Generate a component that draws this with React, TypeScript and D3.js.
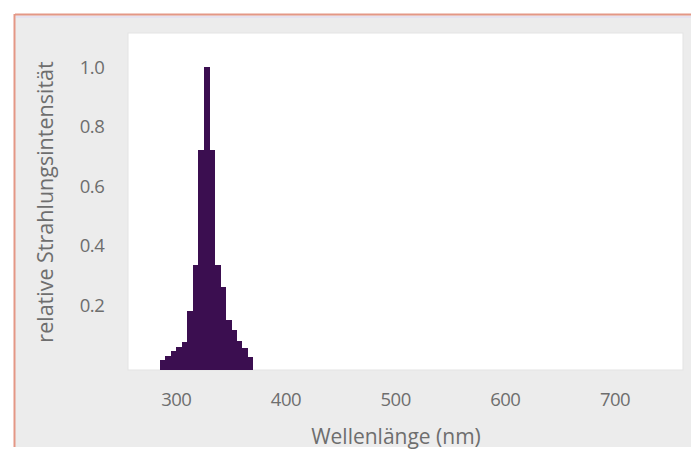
import React from "react";
import * as d3 from "d3";

// Histogram bins (start wavelength in nm, bin width 5 nm)
const binStarts = [285, 290, 295, 300, 305, 310, 315, 320, 325, 330, 335, 340, 345, 350, 355, 360, 365];
const binValues = [0.015, 0.03, 0.045, 0.06, 0.075, 0.18, 0.335, 0.72, 1.0, 0.72, 0.335, 0.26, 0.15, 0.115, 0.08, 0.055, 0.025];
const binWidth = 5;
const xTicks = [300, 400, 500, 600, 700];
const yTicks = [0.2, 0.4, 0.6, 0.8, 1.0];
const xTitle = "Wellenlänge (nm)";
const yTitle = "relative Strahlungsintensität";

export default function App() {
  const W = 691, H = 450;
  const plot = { left: 128, right: 683, top: 33, bottom: 370 };
  const x = d3.scaleLinear().domain([256, 762]).range([plot.left, plot.right]);
  const y = d3.scaleLinear().domain([-0.018, 1.113]).range([plot.bottom, plot.top]);
  const font = "'Open Sans', 'Noto Sans', sans-serif";
  const textColor = "#6e6e6e";
  return (
    <svg width={W} height={H} style={{ position: "absolute", left: 0, top: 0 }} xmlns="http://www.w3.org/2000/svg">
      <rect x={0} y={0} width={W} height={H} fill="#ffffff" />
      <rect x={15} y={14} width={W - 15} height={433} fill="#ececec" />
      <line x1={15} x2={W} y1={14.5} y2={14.5} stroke="#e49786" strokeWidth={2} />
      <line x1={14.5} x2={14.5} y1={14} y2={447} stroke="#e49786" strokeWidth={2} />
      <line x1={16} x2={W} y1={17} y2={17} stroke="#e6e2f0" strokeWidth={2} />
      <rect x={plot.left} y={plot.top} width={plot.right - plot.left} height={plot.bottom - plot.top} fill="#ffffff" stroke="#e3e3e3" strokeWidth={1} />
      <g shapeRendering="crispEdges">
        {binStarts.map((s, i) => (
          <rect key={s} x={x(s)} y={y(binValues[i])} width={x(s + binWidth) - x(s) + 0.4} height={y.range()[0] - y(binValues[i])} fill="#3b0e50" />
        ))}
      </g>
      <g fontFamily={font} fontSize={18.5} fill={textColor}>
        {xTicks.map((t) => (
          <text key={t} x={x(t)} y={406} textAnchor="middle" letterSpacing={-0.5}>{t}</text>
        ))}
        {yTicks.map((t) => (
          <text key={t} x={92} y={y(t) + 7} textAnchor="middle" letterSpacing={-0.5}>{t.toFixed(1)}</text>
        ))}
        <text x={396} y={444} textAnchor="middle" fontSize={21}>{xTitle}</text>
        <text transform={`translate(53, 202) rotate(-90)`} textAnchor="middle" fontSize={21.5}>{yTitle}</text>
      </g>
    </svg>
  );
}
